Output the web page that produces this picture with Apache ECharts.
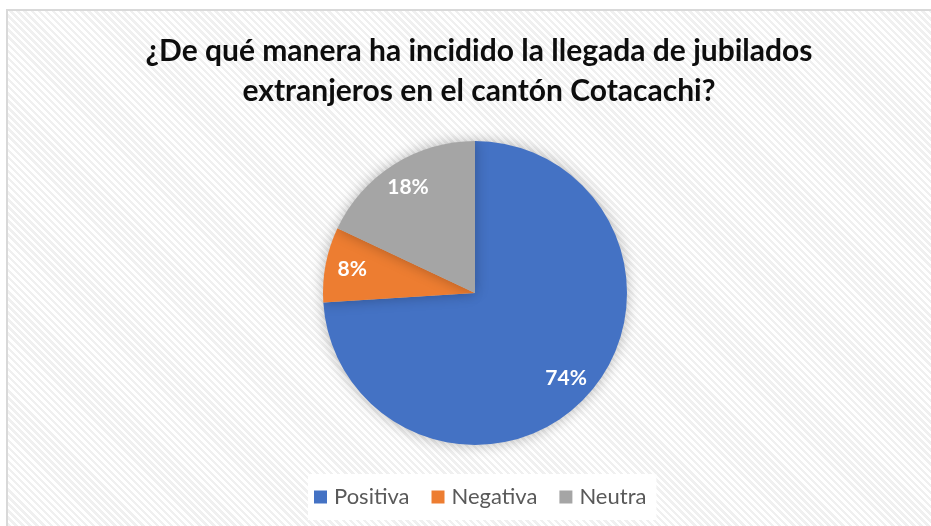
<!DOCTYPE html>
<html><head><meta charset="utf-8">
<script src="https://cdn.jsdelivr.net/npm/echarts@6/dist/echarts.min.js"></script>
<style>
html,body{margin:0;padding:0;width:931px;height:526px;overflow:hidden;background:#fff;}
#frame{position:absolute;left:6px;top:9px;width:940px;height:530px;border:2px solid #d9d9d9;box-sizing:border-box;
background:repeating-linear-gradient(45deg,#ffffff 0px,#ffffff 2.5px,#f0f0f0 2.5px,#f0f0f0 5px);}
#main{position:absolute;left:0;top:0;width:931px;height:526px;}
</style></head>
<body>
<div id="frame"></div>
<div id="main"></div>
<script>
const titleText = '¿De qué manera ha incidido la llegada de jubilados\nextranjeros en el cantón Cotacachi?';
const categories = ['Positiva', 'Negativa', 'Neutra'];
const values = [74, 8, 18];
const colors = ['#4472c4', '#ed7d31', '#a5a5a5'];

const chart = echarts.init(document.getElementById('main'), null, {renderer:'canvas'});
const data = categories.map((c,i)=>({name:c, value:values[i], itemStyle:{color:colors[i]}}));
chart.setOption({
  backgroundColor:'transparent',
  animation:false,
  title:{text:titleText, left:474, top:26, textAlign:'center',
    textStyle:{fontFamily:'Lato', fontWeight:'bold', fontSize:30, color:'#0d0d0d', lineHeight:40}},
  legend:{data:categories, bottom:6, left:308, backgroundColor:'#ffffff', padding:[12,10,12,6],
    itemWidth:13, itemHeight:13, itemGap:22, icon:'rect',
    textStyle:{fontFamily:'Lato', fontSize:22, color:'#595959', padding:[0,0,0,2]}},
  series:[
    {type:'pie', center:[475,293], radius:[0,152], startAngle:90, clockwise:true,
     data:data, label:{show:false}, labelLine:{show:false}, silent:true,
     itemStyle:{shadowBlur:14, shadowColor:'rgba(0,0,0,0.28)'}},
    {type:'pie', center:[475,293], radius:[92,152], startAngle:90, clockwise:true, silent:true,
     data:categories.map((c,i)=>({name:c, value:values[i], itemStyle:{color:'rgba(0,0,0,0)'}})),
     legendHoverLink:false,
     label:{show:true, position:'inside', formatter:'{d}%', fontFamily:'Lato', fontWeight:'bold', fontSize:21, color:'#ffffff'},
     labelLine:{show:false}}
  ]
});
</script>
</body></html>
